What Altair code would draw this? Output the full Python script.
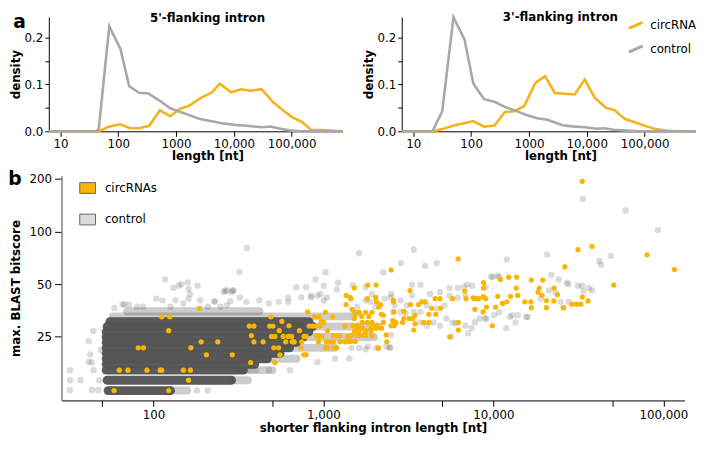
import altair as alt
import pandas as pd

FONT = "DejaVu Sans"
ORANGE_LINE = "#F4B31A"
GRAY_LINE = "#A8A8A8"
ORANGE_PT = "#FAB500"

# ---------------- panel a : density of flanking intron lengths ----------------
len5_ctrl = [6.3, 40, 46, 70, 109, 155, 230, 333, 510, 794, 1200, 2600, 3950, 6150, 10300, 17000, 30300, 43000, 61000, 91000, 140000, 760000]
den5_ctrl = [0, 0, 0.004, 0.2235, 0.176, 0.096, 0.082, 0.0805, 0.066, 0.049, 0.041, 0.026, 0.022, 0.017, 0.0137, 0.0117, 0.0085, 0.0103, 0.0058, 0.002, 0, 0]
len5_circ = [6.3, 46, 70, 109, 155, 230, 345, 525, 794, 1170, 1700, 2700, 4200, 5700, 9000, 13300, 19500, 30300, 47500, 69000, 103000, 150000, 222000, 350000, 700000, 760000]
den5_circ = [0, 0, 0.0103, 0.015, 0.0072, 0.0064, 0.0117, 0.0448, 0.032, 0.048, 0.055, 0.071, 0.083, 0.1014, 0.083, 0.0897, 0.0864, 0.0897, 0.0624, 0.046, 0.0298, 0.020, 0.0025, 0.0025, 0, 0]

len3_ctrl = [6.3, 21.5, 31.6, 49.5, 77, 109, 167, 254, 382, 600, 940, 1380, 2100, 3800, 5600, 9400, 14700, 20000, 29500, 49500, 80000, 760000]
den3_ctrl = [0, 0, 0.0425, 0.243, 0.195, 0.102, 0.0683, 0.063, 0.052, 0.0436, 0.034, 0.028, 0.0245, 0.013, 0.0105, 0.0085, 0.0054, 0.0064, 0.0034, 0.0015, 0, 0]
len3_circ = [6.3, 23, 31.6, 52.5, 109, 167, 254, 382, 562, 830, 1290, 1900, 2800, 4100, 6200, 9200, 13700, 21500, 29500, 46000, 72000, 105000, 157000, 250000, 400000, 760000]
den3_circ = [0, 0, 0.0047, 0.013, 0.0215, 0.0098, 0.0125, 0.041, 0.0425, 0.054, 0.103, 0.1174, 0.0816, 0.08, 0.0785, 0.1105, 0.0715, 0.0502, 0.0457, 0.0261, 0.0183, 0.011, 0.0047, 0.0013, 0, 0]

line_groups = ["circRNA", "control"]

# ---------------- panel b : scatter ----------------
circ_len = [187, 112, 125, 123, 81.5, 87.4, 166, 191, 239, 205, 291, 63, 70.9, 91.6, 109.6, 112, 150, 165, 161, 58.7, 123,
            366, 390, 390, 377, 373, 442, 491, 483, 505, 495, 518, 511, 545, 555, 518, 570, 550, 580, 600, 622, 650, 664, 627, 655, 673,
            722, 770, 790, 746, 740, 767, 807, 824, 862, 900, 953, 889, 943, 970, 939, 980, 913, 936, 1030, 1005, 1057, 1040, 1077, 1113,
            1145, 1025, 1057, 1145, 1195, 1145, 1205, 1250, 1250, 1335, 1380, 1130, 1360, 1340, 1390, 1435, 790,
            1475, 1550, 1620, 1680, 1770, 1850, 1930, 1690, 1810, 1930, 1490, 1590, 1520, 1620, 1770, 1900, 1460, 1620, 1770, 1930,
            1980, 2070, 1820, 2040, 2030, 2120, 2170, 2190, 2100, 2360, 2500, 2580, 2600, 2500, 2600, 1520, 1360, 1450, 1520, 1520,
            1580, 1690, 1580, 1730, 1450, 1540, 1900, 2050, 2200, 2050, 1810, 2250, 2250, 2560, 2340, 2110,
            33300, 31400, 38000, 80000, 116000, 51000, 26300, 6200, 8750, 8750, 11000, 12300, 13700, 16700, 19500, 18600, 22700, 13600,
            13900, 12600, 12000, 10600, 11300, 15300, 16600, 16700, 18300, 19300, 20500, 20500, 23800, 22700, 25800, 28900, 30800, 32700,
            33300, 36000, 8700, 7960, 7600, 6780, 6900, 7700, 8200, 9000, 9100, 10300, 9850, 8700, 7770, 6220, 5530, 6220, 5740, 4850,
            4540, 4340, 4880, 3960, 3790, 3620, 3250, 3230, 4170, 4580, 3460, 3460, 3880, 4170, 2920, 2670, 2580, 2970, 2970, 3400, 3330, 3190]
circ_score = [36.3, 32.5, 32.5, 27.1, 21.6, 21.6, 21.6, 23.4, 23.4, 19.7, 19.7, 16.1, 16.1, 16.1, 16.1, 16.1, 16.1, 16.1, 14.1, 12.3, 12.3,
              28.8, 28.8, 23.4, 25.4, 17.8, 23.4, 32.5, 28.8, 28.8, 25.1, 25.1, 21.6, 21.6, 19.7, 17.8, 30.6, 27.1, 25.1, 23.4, 25.1, 25.1, 23.4, 28.9, 23.4, 23.4,
              27.1, 25.1, 25.1, 23.4, 21.6, 19.7, 34.7, 28.8, 28.8, 28.8, 28.8, 32.6, 32.6, 30.6, 25.1, 25.1, 25.4, 23.4, 34.5, 30.2, 27.0, 23.4, 23.4, 23.4,
              23.4, 21.6, 21.6, 21.6, 21.6, 25.4, 25.4, 25.4, 23.4, 23.4, 23.4, 32.5, 38.2, 28.8, 25.1, 42.0, 19.7,
              35.9, 33.6, 34.5, 32.7, 34.5, 32.7, 34.5, 30.2, 30.2, 30.2, 28.9, 28.9, 27.0, 27.0, 27.0, 27.0, 25.4, 25.4, 25.4, 25.4,
              28.9, 28.9, 49.4, 49.4, 42.0, 37.0, 38.2, 33.6, 21.5, 23.4, 60.3, 40.4, 34.7, 28.9, 28.9, 47.6, 43.1, 41.3, 34.7, 31.8,
              28.0, 28.0, 25.6, 25.6, 23.5, 23.5, 28.0, 28.0, 28.0, 39.6, 41.3, 33.2, 30.2, 30.9, 25.6, 21.6,
              194, 78.8, 82.4, 73.6, 60.6, 49.4, 62.8, 69.7, 51.0, 47.5, 53.2, 54.8, 54.8, 52.8, 52.8, 47.5, 47.5, 47.5,
              43.1, 42.6, 39.6, 42.6, 38.8, 39.6, 39.6, 36.7, 45.0, 43.1, 40.3, 36.7, 43.5, 40.1, 36.7, 38.4, 38.4, 38.4,
              42.2, 40.1, 42.4, 41.3, 41.8, 45.7, 41.3, 41.3, 41.3, 41.3, 37.0, 37.0, 28.9, 34.7, 35.9, 27.3, 25.0, 30.2, 41.3, 41.3,
              41.3, 36.4, 36.4, 39.6, 39.6, 38.2, 38.2, 46.0, 33.6, 33.6, 33.2, 29.7, 30.2, 30.2, 30.2, 30.2, 39.6, 35.0, 31.8, 27.3, 31.8, 31.8]

ctrl_len = [33500, 60000, 92600, 3400, 20700, 12000, 2850, 4640, 3960, 49000, 42000, 42900, 3320, 3720, 5520, 6180, 7000, 9900, 10800,
            21900, 24200, 27000, 27600, 31400, 33300, 36400, 38000, 33800, 19000, 21200, 23200, 24800, 27700, 25800, 15600, 13900, 12500,
            13500, 11900, 9700, 10600, 9000, 7500, 6700, 5520, 6180, 6830, 5140, 4640, 4060, 3720, 3050, 3320, 2850, 2500, 4240, 4840,
            2620, 2850, 3100, 3400, 3720, 4060, 4440, 4850, 5300, 5760, 6830, 7780, 8900, 10100, 2340, 2470, 2050, 1830, 5640, 7100, 7450,
            8300, 6000, 9100, 10800, 12900, 15900,
            355, 320, 1620, 1028, 900, 1005, 1220, 1200, 1490, 1770, 1930, 2250, 693, 790, 620, 740, 845, 960, 1050, 296, 271, 323, 352,
            420, 478, 546, 1580, 1770, 1890, 2020, 2300, 2500, 2570, 2630, 2500, 2450, 1770, 1620, 1460, 922, 636, 478, 368, 400, 308,
            1170, 1420, 845, 922, 1005, 228, 283, 620,
            117, 159, 131, 141, 161, 164, 182, 146, 263, 293, 44.3, 41.6, 42.5, 41.6, 32.3, 32.3, 37.3, 32.3, 43.5, 47.4, 59, 65.8, 71.8,
            80, 87, 104, 113, 126, 135, 150, 161, 188, 209, 230, 248, 271, 260, 287, 67.4, 43.4, 209, 180, 44.5, 48, 49]
ctrl_score = [154, 132, 102, 79, 73.9, 69.3, 66, 66, 63.6, 72.6, 67.9, 64.6, 49.7, 49.7, 47.6, 47.6, 49.7, 55, 55,
              56.4, 53.2, 51, 50, 49, 49, 47.6, 46, 45.4, 41.3, 46, 45, 39.6, 39.6, 36.6, 32.5, 33.2, 32.5,
              30.2, 28, 55.4, 56, 48, 49, 48, 43, 41.8, 43, 37.8, 36.3, 37.8, 34.7, 34, 43, 40.4, 44, 44, 45,
              37.8, 34.7, 37.8, 34.7, 30.2, 28.9, 30.2, 28.9, 31.8, 30.2, 28.9, 30.2, 31.8, 33.2, 22, 21.7, 21.6, 22, 25, 26.2, 28,
              31.8, 29.8, 31.8, 34.7, 33.2, 32.5,
              80.6, 58.7, 75.2, 58.5, 53.2, 49, 51, 46.6, 49.4, 48, 44, 58.5, 48, 48, 42, 42, 42, 44, 42, 46, 46, 42, 39.6,
              40.4, 38.8, 39.6, 37.1, 40.4, 39.6, 37.1, 41.3, 42, 34.7, 29.8, 25.6, 21.6, 21.2, 21.6, 21.6, 17.9, 16.1, 16.1, 16.1, 16.1, 16.1,
              18.8, 18.8, 43, 43, 40.3, 40, 40, 39.6,
              53.2, 51.2, 47.6, 49, 47, 44, 49, 50, 46, 46, 27, 23.6, 19.8, 18, 16.1, 14.1, 14.1, 12.4, 12.4, 12.4, 36.5, 38.2, 38.2,
              37.1, 37.1, 41.3, 40.4, 37.1, 40.4, 38.8, 41.3, 40.4, 37.1, 39.6, 37.1, 37.9, 45, 45, 38.4, 17.8, 12.3, 12.3, 16.1, 14.1, 21]

# dense bands of overlapping control points: bitscore row, shortest and longest length
band_score = [12.3, 14.1, 16.1, 17.4, 18.7, 20.1, 21.6, 23.2, 24.9, 26.7, 28.6, 30.5]
band_lo = [54.1, 53.4, 52.7, 52.7, 52.7, 52.7, 52.7, 52.7, 52.7, 52.7, 53.4, 55.5]
band_hi = [126, 288, 338, 394, 468, 555, 633, 695, 760, 822, 865, 822]
# sparser bands
sparse_score = [12.3, 14.1, 16.1, 18.7, 21.6, 24.9, 28.6, 32.7, 35.0]
sparse_lo = [127, 288, 338, 468, 633, 760, 865, 57.7, 70]
sparse_hi = [158, 360, 500, 695, 1170, 1980, 2100, 1500, 420]

scatter_groups = ["circRNAs", "control"]

# ---------------- build ----------------
PW, PH = 298, 116
xa = alt.Scale(type="log", domain=[6.3, 760000], nice=False)
ya = alt.Scale(domain=[0, 0.2435], nice=False, zero=True)


def density_panel(title, lc, dc, lx, dx_, show_legend, show_letter):
    df = pd.DataFrame({
        "length": lc + lx,
        "density": dc + dx_,
        "group": ["circRNA"] * len(lc) + ["control"] * len(lx),
    })
    leg = None
    if show_legend:
        leg = alt.Legend(title=None, orient="none", legendX=229, legendY=0,
                         symbolType="M-1,0.45L1,-0.45", symbolSize=196, symbolStrokeWidth=3,
                         labelFont=FONT, labelFontSize=12, labelColor="black",
                         labelOffset=6, rowPadding=5)
    base = alt.Chart(df).mark_line(strokeWidth=2.6, clip=False).encode(
        x=alt.X("length:Q", scale=xa,
                axis=alt.Axis(title="length [nt]", values=[10, 100, 1000, 10000, 100000],
                              labelExpr="datum.value >= 10000 ? format(datum.value, ',') : format(datum.value, 'd')",
                              tickSize=5, labelPadding=2, titlePadding=2, titleX=PW / 2 + 12,
                              labelFont=FONT, labelFontSize=12, titleFont=FONT, titleFontSize=12)),
        y=alt.Y("density:Q", scale=ya,
                axis=alt.Axis(title="density", values=[0, 0.05, 0.1, 0.15, 0.2],
                              labelExpr="indexof([0, 0.1, 0.2], datum.value) >= 0 ? format(datum.value, '.1f') : ''",
                              tickSize=4, labelPadding=2, titlePadding=2,
                              labelFont=FONT, labelFontSize=12, titleFont=FONT, titleFontSize=12)),
        color=alt.Color("group:N", scale=alt.Scale(domain=line_groups, range=[ORANGE_LINE, GRAY_LINE]),
                        sort=line_groups, legend=leg),
        order=alt.Order("group:N", sort="descending"),
    )
    layers = [base]
    if show_letter:
        layers.append(alt.Chart(alt.Data(values=[{"t": "a"}])).mark_text(
            text="a", font=FONT, fontSize=19, fontWeight="bold", align="left", baseline="alphabetic").encode(
            x=alt.value(-36), y=alt.value(11)))
    return alt.layer(*layers).properties(
        width=PW, height=PH,
        title=alt.TitleParams(title, font=FONT, fontSize=12, fontWeight="bold", offset=-12, dx=12, anchor="middle"))


left = density_panel("5'-flanking intron", len5_circ, den5_circ, len5_ctrl, den5_ctrl, False, True)
right = density_panel("3'-flanking intron", len3_circ, den3_circ, len3_ctrl, den3_ctrl, True, False)
top = alt.hconcat(left, right, spacing=13).resolve_scale(color="independent").resolve_legend(color="independent")

xs = alt.Scale(type="log", domain=[28.8, 133000], nice=False)
ys = alt.Scale(type="log", domain=[10.8, 209], nice=False)

xaxis = alt.Axis(title="shorter flanking intron length [nt]",
                 values=[50, 100, 500, 1000, 5000, 10000, 50000, 100000],
                 labelExpr="indexof([100, 1000, 10000, 100000], datum.value) >= 0 ? format(datum.value, ',') : ''",
                 tickSize=6, labelPadding=3, titlePadding=3,
                 labelFont=FONT, labelFontSize=12, titleFont=FONT, titleFontSize=12)
yaxis = alt.Axis(title="max. BLAST bitscore", values=[25, 50, 100, 200], tickSize=7, labelPadding=3,
                 titlePadding=7, domainColor="#7f7f7f", domainWidth=1.5,
                 labelFont=FONT, labelFontSize=12, titleFont=FONT, titleFontSize=12)

bands = pd.DataFrame({"score": band_score, "lo": band_lo, "hi": band_hi})
sparse = pd.DataFrame({"score": sparse_score, "lo": sparse_lo, "hi": sparse_hi})
ctrl = pd.DataFrame({"length": ctrl_len, "score": ctrl_score})
circ = pd.DataFrame({"length": circ_len, "score": circ_score, "group": ["circRNAs"] * len(circ_len)})

band_layer = alt.Chart(bands).mark_rule(strokeWidth=9, strokeCap="round", color="#555555", opacity=0.97).encode(
    x=alt.X("lo:Q", scale=xs, axis=xaxis), x2="hi:Q", y=alt.Y("score:Q", scale=ys, axis=yaxis))
sparse_layer = alt.Chart(sparse).mark_rule(strokeWidth=8, strokeCap="round", color="#555555", opacity=0.3).encode(
    x=alt.X("lo:Q", scale=xs), x2="hi:Q", y=alt.Y("score:Q", scale=ys))
ctrl_layer = alt.Chart(ctrl).mark_circle(size=42, color="#4d4d4d", opacity=0.2).encode(
    x=alt.X("length:Q", scale=xs), y=alt.Y("score:Q", scale=ys))
circ_layer = alt.Chart(circ).mark_circle(size=28, opacity=1).encode(
    x=alt.X("length:Q", scale=xs), y=alt.Y("score:Q", scale=ys),
    color=alt.Color("group:N", scale=alt.Scale(domain=scatter_groups, range=[ORANGE_PT, "#dcdcdc"]),
                    legend=alt.Legend(title=None, orient="none", legendX=18, legendY=4,
                                      symbolType="M-1,-0.68H1V0.68H-1Z", symbolSize=256, symbolOpacity=1,
                                      symbolStrokeColor="#666666", symbolStrokeWidth=1,
                                      labelFont=FONT, labelFontSize=12, labelColor="black",
                                      labelOffset=9, rowPadding=16)))
b_letter = alt.Chart(alt.Data(values=[{"t": "b"}])).mark_text(
    text="b", font=FONT, fontSize=19, fontWeight="bold", align="left", baseline="alphabetic").encode(
    x=alt.value(-54), y=alt.value(9))

bottom = alt.layer(band_layer, sparse_layer, ctrl_layer, circ_layer, b_letter).properties(width=632, height=228)

chart = alt.vconcat(top, bottom, spacing=8, center=True).resolve_scale(color="independent").resolve_legend(
    color="independent").properties(padding=0).configure_view(stroke=None).configure_axis(
    grid=False, labelColor="black", titleFontWeight="bold", titleColor="black",
    domainColor="black", tickColor="black")

chart.save("out.html", embed_options={"renderer": "svg", "actions": False})
